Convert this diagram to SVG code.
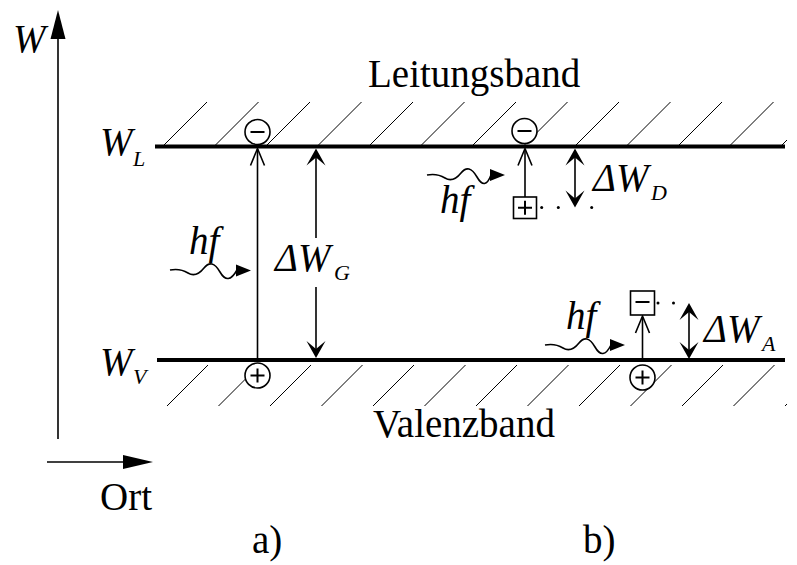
<svg xmlns="http://www.w3.org/2000/svg" width="797" height="565" viewBox="0 0 797 565">
<style>
text{font-family:"Liberation Serif","Times New Roman",serif;fill:#000}
.big{font-size:39px}
.lab{font-size:39px;font-style:italic}
.sub{font-size:22px;font-style:italic}
.band{stroke:#000;stroke-width:4;fill:none}
.hatch{stroke:#000;stroke-width:1;fill:none}
.thin{stroke:#000;stroke-width:1.6;fill:none}
.wave{stroke:#000;stroke-width:1.6;fill:none}
.carrier{fill:#fff;stroke:#000;stroke-width:1.6}
.sign{stroke:#000;stroke-width:2;fill:none}
.dot{fill:#000}
</style>
<defs>
<clipPath id="clip"><rect x="155" y="0" width="632" height="565"/></clipPath>
<path id="barb" d="M0,0 L-9.5,-17 L0,-9 L9.5,-17 Z" fill="#000"/>
<path id="open" d="M-7,17 L0,0 L7,17" stroke="#000" stroke-width="1.6" fill="none"/>
<path id="fill" d="M0,0 L-15,-6 L-15,6 Z" fill="#000"/>
</defs>

<g id="axes">
<line class="thin" x1="58" y1="439" x2="58" y2="30"/>
<path d="M58,10 L65.5,39 L50.5,39 Z" fill="#000"/>
<line class="thin" x1="47" y1="462" x2="125" y2="462"/>
<path d="M153,462 L123,455 L123,469 Z" fill="#000"/>
<text class="lab" x="13" y="52" font-size="40">W</text>
<text class="big" x="100" y="510">Ort</text>
</g>

<g id="bands">
<g clip-path="url(#clip)">
<path class="hatch" d="M163,146 l44,-44 M214.5,146 l44,-44 M266,146 l44,-44 M317.5,146 l44,-44 M369,146 l44,-44 M420.5,146 l44,-44 M472,146 l44,-44 M523.5,146 l44,-44 M575,146 l44,-44 M626.5,146 l44,-44 M678,146 l44,-44 M729.5,146 l44,-44 M781,146 l44,-44"/>
<path class="hatch" d="M167,406 l41,-41 M218.5,406 l41,-41 M270,406 l41,-41 M321.5,406 l41,-41 M373,406 l41,-41 M424.5,406 l41,-41 M476,406 l41,-41 M527.5,406 l41,-41 M579,406 l41,-41 M630.5,406 l41,-41 M682,406 l41,-41 M733.5,406 l41,-41 M785,406 l41,-41"/>
</g>
<line class="band" x1="155" y1="146.5" x2="785" y2="146.5"/>
<line class="band" x1="157" y1="360" x2="785" y2="360"/>
<text class="lab" x="100" y="155">W</text>
<text class="sub" x="133" y="166">L</text>
<text class="lab" x="100" y="375">W</text>
<text class="sub" x="133" y="384">V</text>
<text class="big" x="368" y="87">Leitungsband</text>
<text class="big" x="373" y="437">Valenzband</text>
</g>

<g id="connectors">
<line class="thin" x1="257.5" y1="360" x2="257.5" y2="149"/>
<use href="#open" x="257.5" y="148.5"/>
<line class="thin" x1="316" y1="150" x2="316" y2="238"/>
<line class="thin" x1="316" y1="287" x2="316" y2="356"/>
<use href="#barb" transform="translate(316,148.5) rotate(180)"/>
<use href="#barb" transform="translate(316,358)"/>
<path class="wave" d="M170,270 Q180,268 188,273 T204,268 T220,272 T237,270"/>
<use href="#fill" x="251" y="270.5"/>

<line class="thin" x1="525" y1="197" x2="525" y2="149"/>
<use href="#open" x="525" y="148.5"/>
<line class="thin" x1="575" y1="150" x2="575" y2="205"/>
<use href="#barb" transform="translate(575,148.5) rotate(180)"/>
<use href="#barb" transform="translate(575,207.5)"/>
<path class="wave" d="M427,175 Q437,173 445,178 T461,173 T477,177 T491,175"/>
<use href="#fill" x="505" y="175"/>

<line class="thin" x1="642.5" y1="360" x2="642.5" y2="317"/>
<use href="#open" x="642.5" y="316"/>
<line class="thin" x1="689" y1="305" x2="689" y2="357"/>
<use href="#barb" transform="translate(689,303) rotate(180)"/>
<use href="#barb" transform="translate(689,359)"/>
<path class="wave" d="M545,345 Q555,343 563,348 T579,343 T595,347 T611,345"/>
<use href="#fill" x="625" y="345"/>

<circle class="dot" cx="541.7" cy="207.5" r="1.5"/>
<circle class="dot" cx="558.3" cy="207.5" r="1.5"/>
<circle class="dot" cx="591.7" cy="207.5" r="1.5"/>
<circle class="dot" cx="658" cy="303" r="1.5"/>
<circle class="dot" cx="673.5" cy="303" r="1.5"/>
</g>

<g id="electron-a">
<circle class="carrier" cx="257.5" cy="132" r="12.5"/>
<line class="sign" x1="250.5" y1="132" x2="264.5" y2="132"/>
</g>
<g id="hole-a">
<circle class="carrier" cx="257.5" cy="375.5" r="12.5"/>
<line class="sign" x1="250.5" y1="375.5" x2="264.5" y2="375.5"/>
<line class="sign" x1="257.5" y1="368.5" x2="257.5" y2="382.5"/>
</g>
<g id="label-a">
<text class="lab" x="189" y="254" font-size="40">hf</text>
<text class="lab" x="275" y="271">ΔW</text>
<text class="sub" x="334" y="280">G</text>
</g>

<g id="electron-b">
<circle class="carrier" cx="524.5" cy="131" r="12.5"/>
<line class="sign" x1="517.5" y1="131" x2="531.5" y2="131"/>
</g>
<g id="donor">
<rect class="carrier" x="513.5" y="197" width="23" height="21.5"/>
<line class="sign" x1="518" y1="207.75" x2="532" y2="207.75"/>
<line class="sign" x1="525" y1="200.75" x2="525" y2="214.75"/>
</g>
<g id="label-d">
<text class="lab" x="440" y="213" font-size="40">hf</text>
<text class="lab" x="593" y="191">ΔW</text>
<text class="sub" x="651" y="200">D</text>
</g>

<g id="acceptor">
<rect class="carrier" x="630.5" y="291" width="24" height="24"/>
<line class="sign" x1="635.5" y1="302" x2="649.5" y2="302"/>
</g>
<g id="hole-b">
<circle class="carrier" cx="642.5" cy="377.5" r="12.5"/>
<line class="sign" x1="635.5" y1="377.5" x2="649.5" y2="377.5"/>
<line class="sign" x1="642.5" y1="370.5" x2="642.5" y2="384.5"/>
</g>
<g id="label-acc">
<text class="lab" x="566" y="329" font-size="40">hf</text>
<text class="lab" x="704" y="342">ΔW</text>
<text class="sub" x="762" y="351">A</text>
</g>

<g id="captions">
<text class="big" x="252" y="553">a)</text>
<text class="big" x="583" y="553">b)</text>
</g>
</svg>
